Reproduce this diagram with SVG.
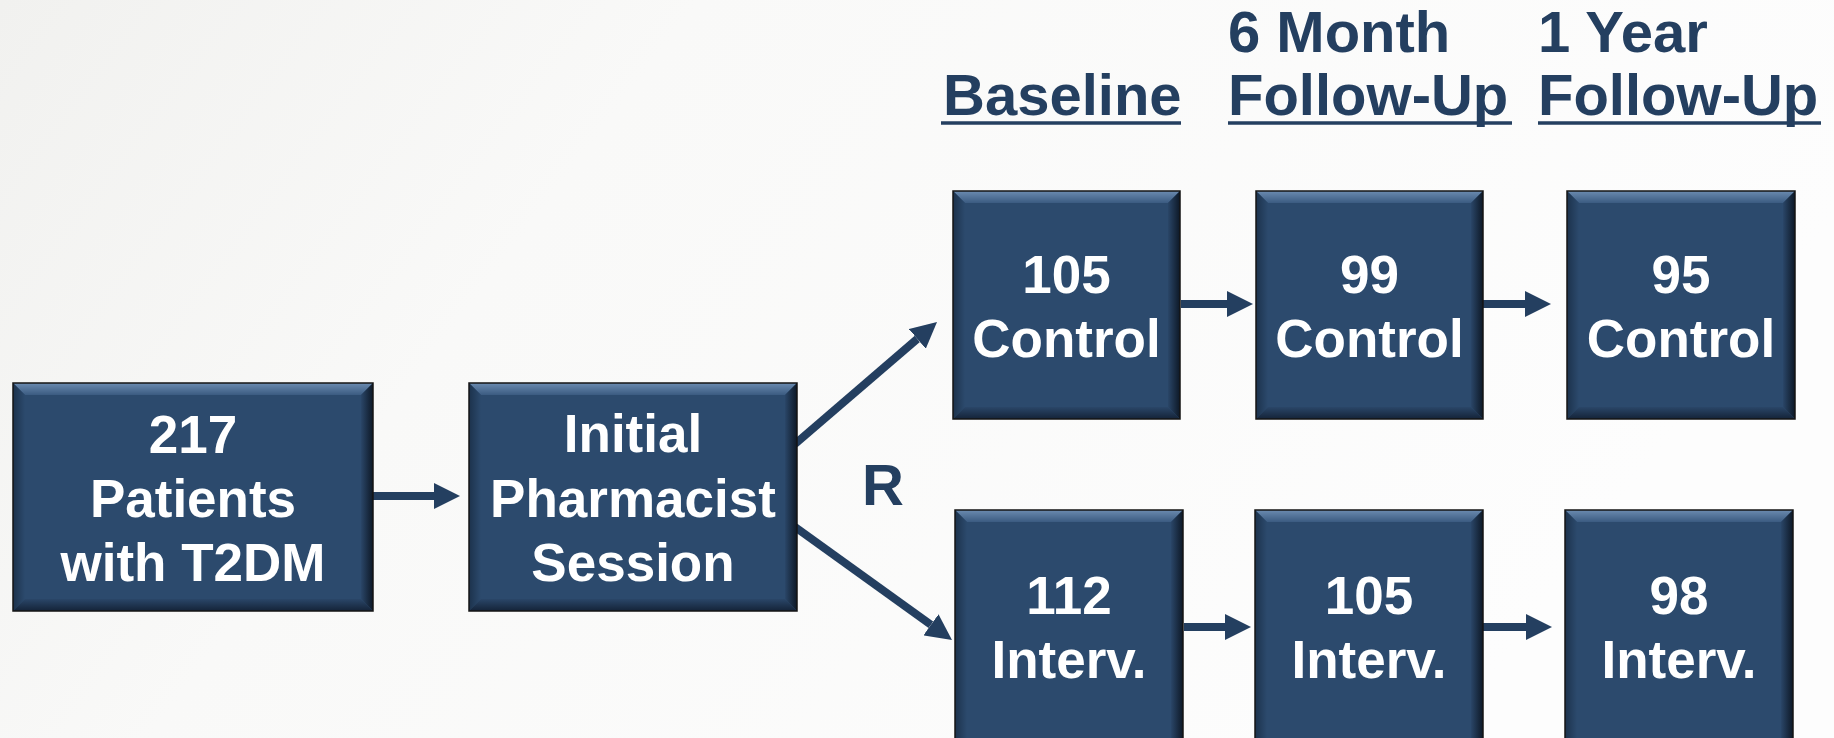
<svg xmlns="http://www.w3.org/2000/svg" width="1834" height="738" viewBox="0 0 1834 738">
<defs>
<linearGradient id="bg" x1="0" y1="0" x2="1" y2="0.3">
<stop offset="0" stop-color="#f1f1ef"/>
<stop offset="0.35" stop-color="#f9f9f8"/>
<stop offset="1" stop-color="#fdfdfd"/>
</linearGradient>
<linearGradient id="gTop" x1="0" y1="0" x2="0" y2="1">
<stop offset="0" stop-color="#6b8bb0"/>
<stop offset="1" stop-color="#3b5b81"/>
</linearGradient>
<linearGradient id="gBot" x1="0" y1="0" x2="0" y2="1">
<stop offset="0" stop-color="#2a4668"/>
<stop offset="1" stop-color="#142338"/>
</linearGradient>
<linearGradient id="gLeft" x1="0" y1="0" x2="1" y2="0">
<stop offset="0" stop-color="#1c324c"/>
<stop offset="1" stop-color="#2c4a6d"/>
</linearGradient>
<linearGradient id="gRight" x1="0" y1="0" x2="1" y2="0">
<stop offset="0" stop-color="#2a4668"/>
<stop offset="1" stop-color="#0d1826"/>
</linearGradient>
<marker id="ah" markerUnits="userSpaceOnUse" markerWidth="26" markerHeight="26" refX="0" refY="13" orient="auto" viewBox="0 0 26 26">
<path d="M0,0 L26,13 L0,26 Z" fill="#243f60"/>
</marker>
</defs>
<style>
.face{fill:#2c4a6d}
.edge{fill:none;stroke:#151515;stroke-width:1.5}
.t{fill:url(#gTop)}
.b{fill:url(#gBot)}
.l{fill:url(#gLeft)}
.r{fill:url(#gRight)}
.lbl{font-family:"Liberation Sans",Arial,sans-serif;font-weight:bold;font-size:53px;fill:#ffffff;text-anchor:middle}
.hdr{font-family:"Liberation Sans",Arial,sans-serif;font-weight:bold;font-size:58px;fill:#243f60}
.ul{stroke:#243f60;stroke-width:3.5}
.arr{stroke:#243f60;stroke-width:8;fill:none;marker-end:url(#ah)}
</style>
<rect x="0" y="0" width="1834" height="738" fill="url(#bg)"/>

<g id="headers">
<text class="hdr" x="943" y="115">Baseline</text>
<line class="ul" x1="941" y1="123" x2="1181" y2="123"/>
<text class="hdr" x="1228" y="52">6 Month</text>
<text class="hdr" x="1228" y="115">Follow-Up</text>
<line class="ul" x1="1228" y1="123" x2="1512" y2="123"/>
<text class="hdr" x="1538" y="52">1 Year</text>
<text class="hdr" x="1538" y="115">Follow-Up</text>
<line class="ul" x1="1538" y1="123" x2="1821" y2="123"/>
<text class="hdr" x="862" y="505">R</text>
</g>

<g id="connectors">
<line class="arr" x1="373" y1="496" x2="434" y2="496"/>
<line class="arr" x1="795" y1="444" x2="917.3" y2="338.9"/>
<line class="arr" x1="795" y1="527" x2="930.9" y2="624.8"/>
<line class="arr" x1="1181" y1="304" x2="1227" y2="304"/>
<line class="arr" x1="1483" y1="304" x2="1525" y2="304"/>
<line class="arr" x1="1184" y1="627" x2="1225" y2="627"/>
<line class="arr" x1="1483" y1="627" x2="1526" y2="627"/>
</g>

<g id="n217">
<rect class="face" x="13" y="383" width="360" height="228"/>
<polygon class="t" points="13,383 373,383 361,395 25,395"/>
<polygon class="l" points="13,383 25,395 25,599 13,611"/>
<polygon class="r" points="373,383 361,395 361,599 373,611"/>
<polygon class="b" points="13,611 373,611 361,599 25,599"/>
<rect class="edge" x="13" y="383" width="360" height="228"/>
<text class="lbl" x="193" y="453">217</text>
<text class="lbl" x="193" y="517">Patients</text>
<text class="lbl" x="193" y="581">with T2DM</text>
</g>

<g id="nSession">
<rect class="face" x="469" y="383" width="328" height="228"/>
<polygon class="t" points="469,383 797,383 785,395 481,395"/>
<polygon class="l" points="469,383 481,395 481,599 469,611"/>
<polygon class="r" points="797,383 785,395 785,599 797,611"/>
<polygon class="b" points="469,611 797,611 785,599 481,599"/>
<rect class="edge" x="469" y="383" width="328" height="228"/>
<text class="lbl" x="633" y="452">Initial</text>
<text class="lbl" x="633" y="517">Pharmacist</text>
<text class="lbl" x="633" y="581">Session</text>
</g>

<g id="nC105">
<rect class="face" x="953" y="191" width="227" height="228"/>
<polygon class="t" points="953,191 1180,191 1168,203 965,203"/>
<polygon class="l" points="953,191 965,203 965,407 953,419"/>
<polygon class="r" points="1180,191 1168,203 1168,407 1180,419"/>
<polygon class="b" points="953,419 1180,419 1168,407 965,407"/>
<rect class="edge" x="953" y="191" width="227" height="228"/>
<text class="lbl" x="1066.5" y="293">105</text>
<text class="lbl" x="1066.5" y="357">Control</text>
</g>

<g id="nC99">
<rect class="face" x="1256" y="191" width="227" height="228"/>
<polygon class="t" points="1256,191 1483,191 1471,203 1268,203"/>
<polygon class="l" points="1256,191 1268,203 1268,407 1256,419"/>
<polygon class="r" points="1483,191 1471,203 1471,407 1483,419"/>
<polygon class="b" points="1256,419 1483,419 1471,407 1268,407"/>
<rect class="edge" x="1256" y="191" width="227" height="228"/>
<text class="lbl" x="1369.5" y="293">99</text>
<text class="lbl" x="1369.5" y="357">Control</text>
</g>

<g id="nC95">
<rect class="face" x="1567" y="191" width="228" height="228"/>
<polygon class="t" points="1567,191 1795,191 1783,203 1579,203"/>
<polygon class="l" points="1567,191 1579,203 1579,407 1567,419"/>
<polygon class="r" points="1795,191 1783,203 1783,407 1795,419"/>
<polygon class="b" points="1567,419 1795,419 1783,407 1579,407"/>
<rect class="edge" x="1567" y="191" width="228" height="228"/>
<text class="lbl" x="1681" y="293">95</text>
<text class="lbl" x="1681" y="357">Control</text>
</g>

<g id="nI112">
<rect class="face" x="955" y="510" width="228" height="230"/>
<polygon class="t" points="955,510 1183,510 1171,522 967,522"/>
<polygon class="l" points="955,510 967,522 967,740 955,740"/>
<polygon class="r" points="1183,510 1171,522 1171,740 1183,740"/>
<rect class="edge" x="955" y="510" width="228" height="232"/>
<text class="lbl" x="1069" y="614">112</text>
<text class="lbl" x="1069" y="678">Interv.</text>
</g>

<g id="nI105">
<rect class="face" x="1255" y="510" width="228" height="230"/>
<polygon class="t" points="1255,510 1483,510 1471,522 1267,522"/>
<polygon class="l" points="1255,510 1267,522 1267,740 1255,740"/>
<polygon class="r" points="1483,510 1471,522 1471,740 1483,740"/>
<rect class="edge" x="1255" y="510" width="228" height="232"/>
<text class="lbl" x="1369" y="614">105</text>
<text class="lbl" x="1369" y="678">Interv.</text>
</g>

<g id="nI98">
<rect class="face" x="1565" y="510" width="228" height="230"/>
<polygon class="t" points="1565,510 1793,510 1781,522 1577,522"/>
<polygon class="l" points="1565,510 1577,522 1577,740 1565,740"/>
<polygon class="r" points="1793,510 1781,522 1781,740 1793,740"/>
<rect class="edge" x="1565" y="510" width="228" height="232"/>
<text class="lbl" x="1679" y="614">98</text>
<text class="lbl" x="1679" y="678">Interv.</text>
</g>
</svg>
